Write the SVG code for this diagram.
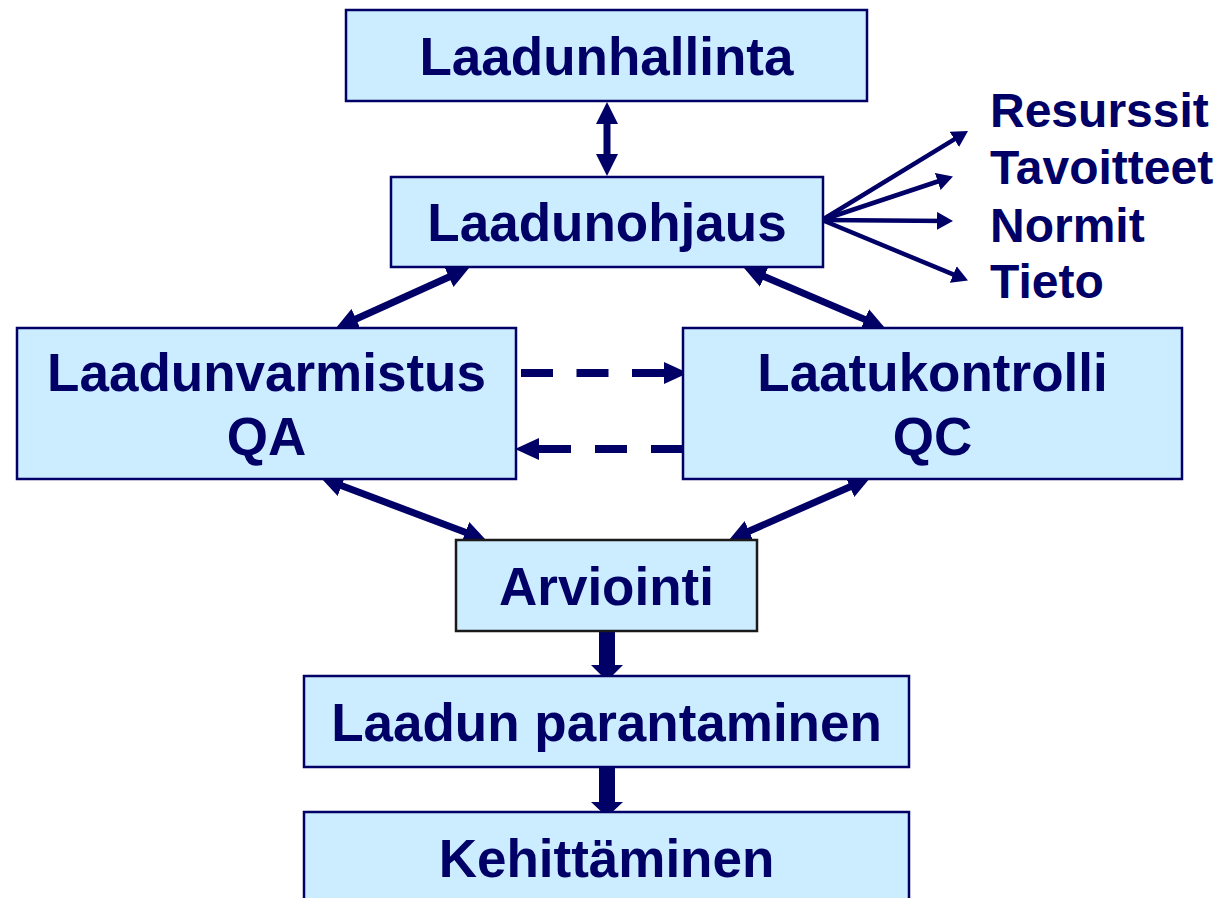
<svg xmlns="http://www.w3.org/2000/svg" width="1223" height="898" viewBox="0 0 1223 898">
<style>
.box{fill:#CCECFF;stroke:#000066;stroke-width:2.5}
.boxk{fill:#CCECFF;stroke:#1a1a1a;stroke-width:2.5}
.t{font-family:"Liberation Sans",Arial,sans-serif;font-weight:bold;font-size:53px;fill:#000066;text-anchor:middle}
.s{font-family:"Liberation Sans",Arial,sans-serif;font-weight:bold;font-size:48px;fill:#000066}
.thick{stroke:#000066;stroke-width:7;fill:none}
.thin{stroke:#000066;stroke-width:4.5;fill:none}
.dash{stroke:#000066;stroke-width:8;fill:none}
</style>
<defs>
<marker id="hb" markerUnits="userSpaceOnUse" viewBox="0 0 22 22" markerWidth="22" markerHeight="22" refX="14" refY="11" orient="auto-start-reverse">
<path d="M0,0 L22,11 L0,22 Z" fill="#000066"/>
</marker>
<marker id="hs" markerUnits="userSpaceOnUse" viewBox="0 0 16 18" markerWidth="16" markerHeight="18" refX="11" refY="9" orient="auto">
<path d="M0,0 L16,9 L0,18 Z" fill="#000066"/>
</marker>
<marker id="hd" markerUnits="userSpaceOnUse" viewBox="0 0 24 22" markerWidth="24" markerHeight="22" refX="0" refY="11" orient="auto">
<path d="M0,0 L24,11 L0,22 Z" fill="#000066"/>
</marker>
</defs>

<g id="connectors">
<line class="thick" x1="607" y1="110" x2="607" y2="168" marker-start="url(#hb)" marker-end="url(#hb)"/>
<line class="thick" x1="461.7" y1="271.3" x2="343.3" y2="324.7" marker-start="url(#hb)" marker-end="url(#hb)"/>
<line class="thick" x1="751.4" y1="271.1" x2="877.6" y2="324.9" marker-start="url(#hb)" marker-end="url(#hb)"/>
<line class="thick" x1="328.5" y1="480.8" x2="478.5" y2="537.2" marker-start="url(#hb)" marker-end="url(#hb)"/>
<line class="thick" x1="862.7" y1="481.2" x2="736.3" y2="536.8" marker-start="url(#hb)" marker-end="url(#hb)"/>
<line class="thin" x1="822" y1="220" x2="963.7" y2="133.6" marker-end="url(#hs)"/>
<line class="thin" x1="822" y1="220" x2="948.2" y2="178" marker-end="url(#hs)"/>
<line class="thin" x1="822" y1="220" x2="948" y2="221" marker-end="url(#hs)"/>
<line class="thin" x1="822" y1="220" x2="963.4" y2="278.7" marker-end="url(#hs)"/>
<line class="dash" x1="521" y1="373" x2="664" y2="373" stroke-dasharray="32 23.5" marker-end="url(#hd)"/>
<line class="dash" x1="683" y1="449" x2="539" y2="449" stroke-dasharray="32 24" marker-end="url(#hd)"/>
<path d="M599,628 L615,628 L615,665 L623,665 L607,681 L591,665 L599,665 Z" fill="#000066"/>
<path d="M599,766 L615,766 L615,802 L623,802 L607,817 L591,802 L599,802 Z" fill="#000066"/>
</g>

<g id="laadunhallinta">
<rect class="box" x="346" y="10" width="521" height="91"/>
<text class="t" x="606.5" y="75">Laadunhallinta</text>
</g>
<g id="laadunohjaus">
<rect class="box" x="391" y="177" width="432" height="90"/>
<text class="t" x="607" y="241">Laadunohjaus</text>
</g>
<g id="laadunvarmistus">
<rect class="box" x="17" y="328" width="499" height="151"/>
<text class="t" x="266.5" y="391">Laadunvarmistus</text>
<text class="t" x="266.5" y="455">QA</text>
</g>
<g id="laatukontrolli">
<rect class="box" x="683" y="328" width="499" height="151"/>
<text class="t" x="932.5" y="391">Laatukontrolli</text>
<text class="t" x="932.5" y="455">QC</text>
</g>
<g id="arviointi">
<rect class="boxk" x="456" y="540" width="301" height="91"/>
<text class="t" x="606.5" y="605">Arviointi</text>
</g>
<g id="laadun-parantaminen">
<rect class="box" x="304" y="676" width="605" height="91"/>
<text class="t" x="606.5" y="741">Laadun parantaminen</text>
</g>
<g id="kehittaminen">
<rect class="box" x="304" y="812" width="605" height="92"/>
<text class="t" x="606.5" y="877">Kehittäminen</text>
</g>
<g id="resurssit"><text class="s" x="990" y="127">Resurssit</text></g>
<g id="tavoitteet"><text class="s" x="990" y="184">Tavoitteet</text></g>
<g id="normit"><text class="s" x="990" y="242">Normit</text></g>
<g id="tieto"><text class="s" x="990" y="298">Tieto</text></g>
</svg>
